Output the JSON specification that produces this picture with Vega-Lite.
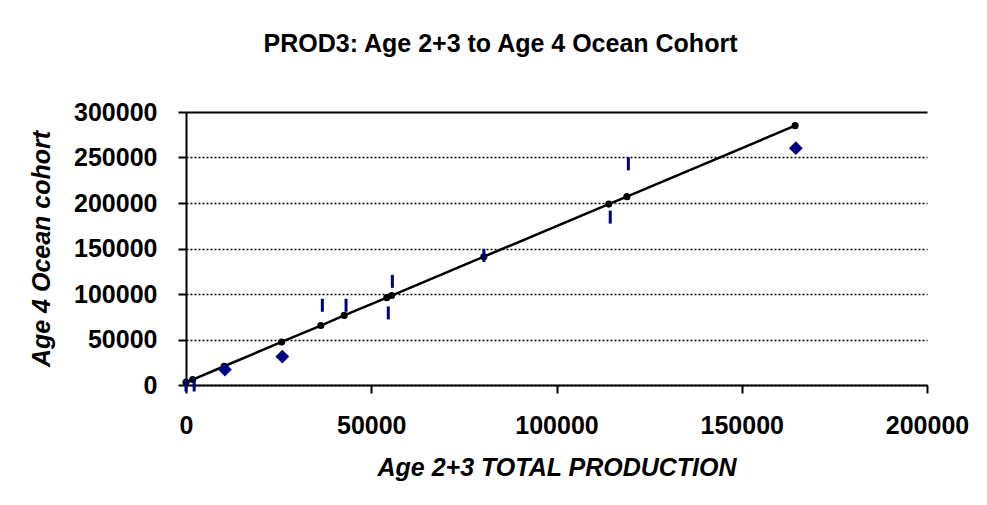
{
  "$schema": "https://vega.github.io/schema/vega-lite/v6.json",
  "width": 741,
  "height": 273,
  "autosize": {"type": "none"},
  "padding": {"left": 186, "top": 112, "right": 60, "bottom": 120},
  "background": "white",
  "title": {
    "text": "PROD3: Age 2+3 to Age 4 Ocean Cohort",
    "font": "Liberation Sans",
    "fontSize": 25,
    "fontWeight": "bold",
    "color": "black",
    "anchor": "middle",
    "frame": "group",
    "dx": -56,
    "offset": 43
  },
  "config": {
    "view": {"stroke": null},
    "axis": {
      "domainColor": "black",
      "domainWidth": 2,
      "tickColor": "black",
      "tickWidth": 2,
      "tickSize": 8,
      "labelFont": "Liberation Sans",
      "labelFontSize": 25,
      "labelFontWeight": "bold",
      "labelColor": "black",
      "labelFlush": false,
      "titleFont": "Liberation Sans",
      "titleFontSize": 25,
      "titleFontWeight": "bold",
      "titleFontStyle": "italic",
      "titleColor": "black"
    }
  },
  "datasets": {
    "fitted": [
      {"prod": 0, "cohort": 3000},
      {"prod": 1800, "cohort": 6000},
      {"prod": 10300, "cohort": 20600},
      {"prod": 25800, "cohort": 47300},
      {"prod": 36400, "cohort": 65300},
      {"prod": 42700, "cohort": 76500},
      {"prod": 54200, "cohort": 96000},
      {"prod": 55500, "cohort": 98300},
      {"prod": 80400, "cohort": 141000},
      {"prod": 114100, "cohort": 198800},
      {"prod": 119000, "cohort": 207000},
      {"prod": 164400, "cohort": 285000}
    ],
    "observedA": [
      {"prod": 10500, "cohort": 17000},
      {"prod": 26000, "cohort": 31300},
      {"prod": 164600, "cohort": 260200}
    ],
    "observedB": [
      {"prod": 0, "cohort": 0},
      {"prod": 2200, "cohort": 0},
      {"prod": 36800, "cohort": 87600},
      {"prod": 43200, "cohort": 87600},
      {"prod": 54600, "cohort": 79200},
      {"prod": 55700, "cohort": 113900},
      {"prod": 80400, "cohort": 142400},
      {"prod": 114500, "cohort": 184500},
      {"prod": 119400, "cohort": 243000}
    ]
  },
  "layer": [
    {
      "data": {"name": "fitted"},
      "mark": {"type": "line", "color": "black", "strokeWidth": 2.5, "clip": false},
      "encoding": {
        "x": {
          "field": "prod",
          "type": "quantitative",
          "scale": {"domain": [0, 200000], "nice": false, "zero": false},
          "axis": {
            "values": [0, 50000, 100000, 150000, 200000],
            "format": "d",
            "grid": false,
            "title": "Age 2+3 TOTAL PRODUCTION",
            "labelPadding": 20,
            "titlePadding": 17
          }
        },
        "y": {
          "field": "cohort",
          "type": "quantitative",
          "scale": {"domain": [0, 300000], "nice": false, "zero": false},
          "axis": {
            "values": [0, 50000, 100000, 150000, 200000, 250000, 300000],
            "format": "d",
            "grid": true,
            "gridColor": "black",
            "gridDash": {"condition": {"test": "datum.value === 300000", "value": []}, "value": [2, 2]},
            "gridWidth": {"condition": {"test": "datum.value === 300000", "value": 2}, "value": 1.5},
            "title": "Age 4 Ocean cohort",
            "labelPadding": 21,
            "titlePadding": 19
          }
        }
      }
    },
    {
      "data": {"name": "fitted"},
      "mark": {"type": "point", "shape": "circle", "filled": true, "color": "black", "size": 50, "opacity": 1, "clip": false},
      "encoding": {
        "x": {"field": "prod", "type": "quantitative"},
        "y": {"field": "cohort", "type": "quantitative"}
      }
    },
    {
      "data": {"name": "observedA"},
      "mark": {"type": "point", "shape": "diamond", "filled": true, "color": "#000080", "size": 190, "opacity": 1, "clip": false},
      "encoding": {
        "x": {"field": "prod", "type": "quantitative"},
        "y": {"field": "cohort", "type": "quantitative"}
      }
    },
    {
      "data": {"name": "observedB"},
      "mark": {"type": "point", "shape": "M0,-1L0,1", "filled": false, "stroke": "#000080", "strokeWidth": 3, "size": 169, "opacity": 1, "clip": false},
      "encoding": {
        "x": {"field": "prod", "type": "quantitative"},
        "y": {"field": "cohort", "type": "quantitative"}
      }
    }
  ]
}
